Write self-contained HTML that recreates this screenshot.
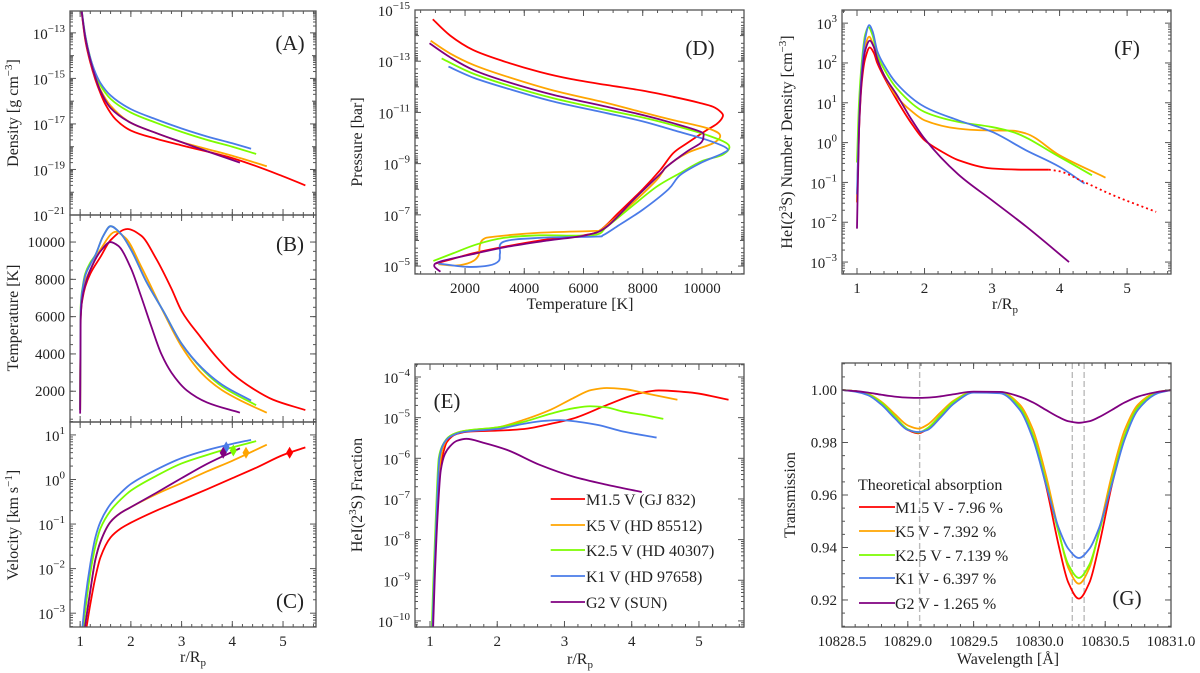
<!DOCTYPE html>
<html><head><meta charset="utf-8">
<style>
html,body{margin:0;padding:0;background:#fff;}
svg{display:block;font-family:"Liberation Serif","DejaVu Serif",serif;}
svg text{font-family:"Liberation Serif","DejaVu Serif",serif;}
</style></head>
<body>
<svg id="fig" width="1200" height="673" viewBox="0 0 1200 673" xmlns="http://www.w3.org/2000/svg" font-family="Liberation Serif, DejaVu Serif, serif">
<rect x="0" y="0" width="1200" height="673" fill="#fff"/>
</svg>
<script>
// ---------- DATA ----------
const starNames=["M1.5 V (GJ 832)","K5 V (HD 85512)","K2.5 V (HD 40307)","K1 V (HD 97658)","G2 V (SUN)"];
const starColors=["#ff0000","#ffa500","#7cfc00","#4a7be8","#800080"];
const absLabels=["M1.5 V - 7.96 %","K5 V - 7.392 %","K2.5 V - 7.139 %","K1 V - 6.397 %","G2 V - 1.265 %"];

// Panel A: log10 density vs r/Rp
const densM15=[[1.0,-11.5],[1.1,-13.3],[1.2,-14.3],[1.3,-15.05],[1.4,-15.65],[1.5,-16.15],[1.7,-16.8],[2,-17.29],[2.5,-17.65],[3,-17.94],[4,-18.5],[5,-19.3],[5.44,-19.7]];
const densK5=[[1.0,-11.5],[1.1,-13.2],[1.2,-14.2],[1.3,-14.95],[1.4,-15.5],[1.6,-16.2],[2,-16.95],[2.5,-17.4],[3,-17.8],[3.5,-18.1],[4,-18.4],[4.68,-18.86]];
const densK25=[[1.0,-11.5],[1.1,-13.1],[1.2,-14.1],[1.3,-14.8],[1.4,-15.3],[1.6,-15.9],[2,-16.5],[2.5,-16.95],[3,-17.35],[3.5,-17.7],[4,-18.0],[4.47,-18.32]];
const densK1=[[1.0,-11.5],[1.1,-13.1],[1.2,-14.1],[1.3,-14.75],[1.4,-15.2],[1.6,-15.75],[2,-16.35],[2.5,-16.8],[3,-17.2],[3.5,-17.55],[4,-17.85],[4.37,-18.09]];
const densG2=[[1.0,-11.5],[1.1,-13.2],[1.2,-14.2],[1.3,-14.95],[1.4,-15.55],[1.6,-16.3],[2,-16.95],[2.5,-17.4],[3,-17.8],[3.5,-18.2],[4.15,-18.7]];
const densTicks=[-21,-19,-17,-15,-13];

// Panel B: temperature vs r/Rp
const tempM15=[[1.0,1000],[1.01,6000],[1.05,7000],[1.1,7600],[1.2,8300],[1.4,9200],[1.6,10100],[1.93,10700],[2.2,10350],[2.5,9100],[2.8,7500],[3.0,6300],[3.37,4920],[3.7,3800],[4,2950],[4.4,2150],[4.8,1550],[5.44,990]];
const tempK5=[[1.0,1000],[1.01,6000],[1.05,7300],[1.1,7900],[1.2,8500],[1.4,9600],[1.7,10550],[1.9,10200],[2.2,8700],[2.65,6200],[3,4400],[3.4,2950],[3.8,2050],[4.2,1450],[4.68,850]];
const tempK25=[[1.0,1000],[1.01,6500],[1.05,7600],[1.1,8300],[1.2,8900],[1.3,9300],[1.45,10300],[1.6,10850],[1.8,10450],[2,9600],[2.3,7900],[2.65,6250],[3,4550],[3.4,3200],[3.8,2250],[4.47,1250]];
const tempK1=[[1.0,1000],[1.01,6300],[1.05,7500],[1.1,8200],[1.2,8800],[1.3,9300],[1.45,10300],[1.6,10850],[1.8,10450],[2,9600],[2.3,7900],[2.65,6250],[3,4550],[3.4,3250],[3.8,2350],[4.37,1500]];
const tempG2=[[1.0,800],[1.01,5800],[1.05,7100],[1.1,7700],[1.2,8500],[1.4,9500],[1.6,10000],[1.75,9800],[2,8600],[2.2,7100],[2.4,5500],[2.6,4000],[2.8,3000],[3.1,2050],[3.5,1400],[4.15,850]];
const tempTicks=[2000,4000,6000,8000,10000];

// Panel C: log10 velocity vs r/Rp
const velM15=[[1.1,-3.5],[1.2,-2.8],[1.3,-2.2],[1.4,-1.75],[1.6,-1.3],[1.8,-1.1],[2,-0.97],[2.5,-0.7],[3,-0.46],[3.5,-0.22],[4,0.03],[4.5,0.28],[5,0.55],[5.44,0.72]];
const velK5=[[1.07,-3.5],[1.2,-2.5],[1.3,-1.8],[1.4,-1.4],[1.6,-0.95],[1.8,-0.75],[2,-0.62],[2.5,-0.33],[3,-0.08],[3.5,0.18],[4,0.42],[4.68,0.78]];
const velK25=[[1.04,-3.5],[1.2,-2.1],[1.3,-1.5],[1.4,-1.1],[1.6,-0.7],[1.8,-0.45],[2,-0.25],[2.5,0.08],[3,0.36],[3.5,0.55],[4,0.72],[4.47,0.86]];
const velK1=[[1.03,-3.5],[1.1,-2.7],[1.2,-1.9],[1.3,-1.3],[1.4,-0.95],[1.6,-0.55],[1.8,-0.3],[2,-0.1],[2.5,0.22],[3,0.48],[3.5,0.66],[4,0.8],[4.37,0.89]];
const velG2=[[1.07,-3.5],[1.2,-2.5],[1.3,-1.8],[1.4,-1.4],[1.6,-0.95],[1.8,-0.75],[2,-0.62],[2.5,-0.3],[3,0.03],[3.5,0.35],[4.15,0.7]];
const sonicR=[5.13,4.27,4.02,3.88,3.82];
const sonicV=[0.6,0.6,0.65,0.72,0.6];
const velTicks=[-3,-2,-1,0,1];
const rTicks=[1,2,3,4,5];

// Panel D: temperature vs log10 pressure
const presM15=[[910,-14.64],[1500,-14.0],[2270,-13.44],[3300,-13.0],[4530,-12.58],[5600,-12.3],[6790,-12.07],[8000,-11.85],[9030,-11.61],[9900,-11.38],[10380,-11.22],[10650,-11.0],[10700,-10.83],[10500,-10.55],[10160,-10.31],[9500,-9.8],[9030,-9.41],[8590,-8.75],[8000,-8.0],[7200,-7.1],[6560,-6.4],[5990,-6.2],[4530,-6.0],[3300,-5.75],[2270,-5.5],[1500,-5.25],[1000,-5.1]];
const presK5=[[840,-13.8],[1500,-13.3],[2300,-12.85],[3410,-12.4],[5000,-11.85],[6790,-11.37],[8000,-11.0],[9030,-10.7],[10160,-10.39],[10610,-10.12],[10380,-9.8],[9490,-9.41],[8810,-8.88],[8470,-8.36],[7700,-7.5],[6900,-6.7],[6560,-6.4],[6300,-6.37],[4500,-6.3],[3000,-6.15],[2620,-6.05],[2500,-5.8],[2450,-5.4],[2200,-5.15],[1700,-5.02],[1100,-5.07]];
const presK25=[[1210,-13.11],[2200,-12.55],[3410,-12.07],[5000,-11.55],[6790,-11.09],[8000,-10.8],[9030,-10.5],[10160,-10.12],[10900,-9.73],[10700,-9.35],[10000,-9.1],[9260,-8.63],[8470,-8.1],[7600,-7.3],[6790,-6.54],[6330,-6.21],[4530,-6.2],[3300,-6.1],[2400,-5.85],[1600,-5.5],[930,-5.2]];
const presK1=[[1440,-12.79],[2300,-12.35],[3410,-11.94],[5000,-11.42],[6790,-10.97],[8000,-10.65],[9030,-10.31],[10160,-9.93],[10840,-9.6],[10700,-9.4],[10000,-9.05],[9260,-8.55],[8870,-8.0],[8000,-7.2],[7200,-6.6],[6670,-6.21],[6400,-6.15],[4500,-6.1],[3300,-5.95],[3180,-5.5],[3140,-5.2],[2800,-5.02],[2060,-4.97],[1100,-5.1]];
const presG2=[[800,-13.7],[1500,-13.15],[2300,-12.65],[3410,-12.2],[5000,-11.68],[6790,-11.22],[8000,-10.9],[9030,-10.58],[9940,-10.25],[10050,-10.05],[9950,-9.8],[9490,-9.47],[8810,-8.88],[8590,-8.6],[7700,-7.6],[6790,-6.54],[6110,-6.21],[4800,-6.0],[3410,-5.75],[2200,-5.45],[1150,-5.17],[960,-5.0],[1170,-4.78]];
const presTicks=[-15,-13,-11,-9,-7,-5];
const tkTicks=[2000,4000,6000,8000,10000];

// Panel E: log10 HeI(2^3S) fraction vs r/Rp
const fracM15=[[1.03,-10.5],[1.06,-9],[1.1,-7.5],[1.15,-6.3],[1.2,-5.85],[1.25,-5.6],[1.4,-5.4],[1.6,-5.34],[2,-5.32],[2.4,-5.28],[2.8,-5.15],[3.13,-5.02],[3.63,-4.69],[4.12,-4.4],[4.4,-4.33],[4.87,-4.38],[5.44,-4.56]];
const fracK5=[[1.03,-10.5],[1.06,-9],[1.1,-7.3],[1.15,-6.1],[1.2,-5.7],[1.3,-5.45],[1.5,-5.33],[2,-5.24],[2.4,-5.05],[2.8,-4.8],[3.13,-4.52],[3.4,-4.32],[3.63,-4.27],[3.9,-4.3],[4.2,-4.4],[4.68,-4.56]];
const fracK25=[[1.02,-10.5],[1.05,-9],[1.09,-7.3],[1.13,-6.0],[1.18,-5.7],[1.3,-5.45],[1.5,-5.33],[2,-5.24],[2.4,-5.1],[2.8,-4.9],[3.13,-4.77],[3.38,-4.72],[3.6,-4.74],[3.87,-4.85],[4.2,-4.94],[4.47,-5.03]];
const fracK1=[[1.03,-10.5],[1.06,-9],[1.1,-7.3],[1.14,-6.0],[1.2,-5.65],[1.3,-5.47],[1.5,-5.35],[2,-5.28],[2.4,-5.15],[2.7,-5.08],[2.93,-5.06],[3.2,-5.1],[3.5,-5.18],[3.87,-5.34],[4.37,-5.49]];
const fracG2=[[1.04,-10.5],[1.07,-9],[1.11,-7.5],[1.16,-6.3],[1.22,-5.9],[1.3,-5.7],[1.4,-5.57],[1.54,-5.52],[1.8,-5.62],[2.14,-5.79],[2.63,-6.16],[3.13,-6.45],[3.63,-6.65],[4.15,-6.83]];
const fracTicks=[-10,-9,-8,-7,-6,-5,-4];

// Panel F: log10 HeI(2^3S) number density vs r/Rp
const ndM15=[[1.0,-1.5],[1.03,0.3],[1.07,1.5],[1.12,2.1],[1.19,2.39],[1.25,2.25],[1.3,2.0],[1.4,1.65],[1.59,1.07],[1.8,0.5],[2,0.06],[2.25,-0.22],[2.5,-0.44],[3,-0.65],[3.5,-0.68],[3.84,-0.68]];
const ndM15Extra=[[3.84,-0.68],[4.0,-0.72],[4.3,-0.94],[4.79,-1.32],[5.43,-1.74]];
const ndK5=[[1.0,-1.5],[1.03,0.5],[1.07,1.7],[1.12,2.4],[1.18,2.66],[1.24,2.45],[1.3,2.1],[1.4,1.7],[1.59,1.15],[1.8,0.8],[2,0.56],[2.5,0.35],[2.82,0.31],[3.3,0.3],[3.5,0.23],[4,-0.32],[4.68,-0.88]];
const ndK25=[[1.0,-0.5],[1.03,1.0],[1.07,2.0],[1.12,2.7],[1.17,2.9],[1.23,2.7],[1.3,2.2],[1.4,1.85],[1.59,1.36],[2,0.77],[2.5,0.52],[3,0.39],[3.3,0.27],[4,-0.36],[4.48,-0.82]];
const ndK1=[[1.0,-1.3],[1.03,0.5],[1.07,1.8],[1.12,2.6],[1.18,2.95],[1.23,2.8],[1.3,2.3],[1.4,1.95],[1.59,1.48],[2,0.9],[2.5,0.56],[3,0.27],[3.5,-0.19],[4,-0.61],[4.37,-1.03]];
const ndG2=[[1.0,-2.16],[1.03,0.3],[1.07,1.6],[1.12,2.3],[1.19,2.56],[1.25,2.4],[1.3,2.1],[1.4,1.7],[1.59,1.2],[1.8,0.6],[2,0.1],[2.5,-0.8],[3,-1.45],[3.5,-2.1],[4.14,-3.0]];
const ndTicks=[-3,-2,-1,0,1,2,3];

// Panel G: transmission spectra
const wave=[10828.5,10828.6,10828.7,10828.8,10828.9,10829.0,10829.08,10829.15,10829.25,10829.35,10829.5,10829.7,10829.85,10829.95,10830.05,10830.15,10830.22,10830.30,10830.38,10830.45,10830.55,10830.65,10830.75,10830.9,10831.0];
const transM15=[1.0,0.9996,0.9983,0.995,0.9898,0.9848,0.9835,0.9852,0.9904,0.9955,0.9992,0.9991,0.9936,0.9828,0.9636,0.940,0.9266,0.9205,0.9266,0.940,0.9636,0.9828,0.9936,0.9991,1.0];
const transK5=[1.0,0.9996,0.9985,0.9955,0.9909,0.9865,0.9853,0.9868,0.9915,0.996,0.9993,0.9993,0.9945,0.985,0.9675,0.9455,0.9322,0.9262,0.9322,0.9455,0.9675,0.985,0.9945,0.9993,1.0];
const transK25=[1.0,0.9996,0.9983,0.9951,0.99,0.9851,0.9838,0.9855,0.9906,0.9956,0.9992,0.9990,0.9935,0.9830,0.9650,0.9450,0.9335,0.9284,0.9335,0.9450,0.9650,0.9830,0.9935,0.9990,1.0];
const transK1=[1.0,0.9994,0.998,0.9944,0.9893,0.9848,0.984,0.9848,0.9896,0.9948,0.999,0.9988,0.9925,0.9815,0.964,0.947,0.9395,0.936,0.9395,0.947,0.964,0.9815,0.9925,0.9988,1.0];
const transG2=[1.0,0.9996,0.999,0.9982,0.9975,0.9971,0.997,0.9971,0.9976,0.9984,0.9994,0.9993,0.9975,0.9953,0.9924,0.9896,0.9881,0.9875,0.9881,0.9896,0.9924,0.9953,0.9975,0.9993,1.0];
const lineCenters=[10829.09,10830.25,10830.34];
const waveTicks=[10828.5,10829.0,10829.5,10830.0,10830.5,10831.0];
const transTicks=[0.92,0.94,0.96,0.98,1.00];

// ---------- DRAWING ----------
const NS="http://www.w3.org/2000/svg";
const FONT="Liberation Serif, DejaVu Serif, serif";
const svg=document.getElementById('fig');
const FRAME="#555";
function el(tag,parent){const e=document.createElementNS(NS,tag);(parent||svg).appendChild(e);return e;}
let clipN=0;
function makeAxes(x0,x1,y0,y1,xd,yd){
  const sx=v=>x0+(v-xd[0])/(xd[1]-xd[0])*(x1-x0);
  const sy=v=>y1-(v-yd[0])/(yd[1]-yd[0])*(y1-y0);
  const id='clip'+(clipN++);
  const cp=el('clipPath');cp.setAttribute('id',id);
  const cr=el('rect',cp);cr.setAttribute('x',x0);cr.setAttribute('y',y0);cr.setAttribute('width',x1-x0);cr.setAttribute('height',y1-y0);
  const g=el('g');g.setAttribute('clip-path','url(#'+id+')');
  return {x0,x1,y0,y1,xd,yd,sx,sy,g};
}
function frame(ax,name){
  const r=el('rect');
  r.setAttribute('x',ax.x0);r.setAttribute('y',ax.y0);r.setAttribute('width',ax.x1-ax.x0);r.setAttribute('height',ax.y1-ax.y0);
  r.setAttribute('fill','none');r.setAttribute('stroke',FRAME);r.setAttribute('stroke-width','1.3');
  
  
}
function tickLine(x1,y1,x2,y2){const l=el('line');l.setAttribute('x1',x1);l.setAttribute('y1',y1);l.setAttribute('x2',x2);l.setAttribute('y2',y2);l.setAttribute('stroke',FRAME);l.setAttribute('stroke-width','1');return l;}
function xTicks(ax,vals,len){vals.forEach(v=>{const x=ax.sx(v);if(x<ax.x0-0.5||x>ax.x1+0.5)return;tickLine(x,ax.y1,x,ax.y1-len);tickLine(x,ax.y0,x,ax.y0+len);});}
function yTicks(ax,vals,len){vals.forEach(v=>{const y=ax.sy(v);if(y<Math.min(ax.y0,ax.y1)-0.5||y>Math.max(ax.y0,ax.y1)+0.5)return;tickLine(ax.x0,y,ax.x0+len,y);tickLine(ax.x1,y,ax.x1-len,y);});}
function range(a,b,s){const o=[];for(let v=a;v<=b+1e-9;v+=s)o.push(+v.toFixed(6));return o;}
function logMinor(a,b){const o=[];for(let n=Math.floor(Math.min(a,b));n<=Math.ceil(Math.max(a,b));n++){for(let k=2;k<=9;k++)o.push(n+Math.log10(k));}return o;}
function text(x,y,str,size,anchor){const t=el('text');t.setAttribute('x',x);t.setAttribute('y',y);t.setAttribute('font-size',size);t.setAttribute('font-family',FONT);t.setAttribute('text-anchor',anchor||'middle');t.setAttribute('fill','#222');t.textContent=str;return t;}
function powLabel(x,y,exp,name){
  const t=el('text');t.setAttribute('x',x);t.setAttribute('y',y);t.setAttribute('font-size','15');t.setAttribute('font-family',FONT);t.setAttribute('text-anchor','end');t.setAttribute('fill','#222');
  const a=el('tspan',t);a.textContent='10';
  const b=el('tspan',t);b.setAttribute('dy','-7');b.setAttribute('font-size','11');b.textContent=(exp<0?'\u2212':'')+Math.abs(exp);
  
  
  return t;
}
function yLabelLin(ax,vals,fmt,name){vals.forEach(v=>{const t=text(ax.x0-5,ax.sy(v)+5,fmt(v),15,'end');});}
function yLabelLog(ax,vals,name){vals.forEach(v=>{powLabel(ax.x0-5,ax.sy(v)+6,v,name);});}
function xLabelLin(ax,vals,fmt,name){vals.forEach(v=>{const t=text(ax.sx(v),ax.y1+19,fmt(v),15,'middle');});}
function rotLabel(x,y,parts,name){
  const t=el('text');t.setAttribute('transform','translate('+x+','+y+') rotate(-90)');t.setAttribute('font-size','16');t.setAttribute('font-family',FONT);t.setAttribute('text-anchor','middle');t.setAttribute('fill','#222');
  parts.forEach(p=>{const s=el('tspan',t);s.textContent=p[0];if(p[1]){s.setAttribute('dy',p[1]);}if(p[2])s.setAttribute('font-size',p[2]);});
  
  
}
function rpLabel(x,y,name){
  const t=el('text');t.setAttribute('x',x);t.setAttribute('y',y);t.setAttribute('font-size','16');t.setAttribute('font-family',FONT);t.setAttribute('text-anchor','middle');t.setAttribute('fill','#222');
  const a=el('tspan',t);a.textContent='r/R';
  const b=el('tspan',t);b.setAttribute('dy','4');b.setAttribute('font-size','11');b.textContent='p';
  
  
}
// parametric Catmull-Rom (for panel D loops)
function smooth(pts){
  if(pts.length<2)return '';
  let d='M'+pts[0][0].toFixed(2)+','+pts[0][1].toFixed(2);
  for(let i=0;i<pts.length-1;i++){
    const p0=pts[i-1]||pts[i],p1=pts[i],p2=pts[i+1],p3=pts[i+2]||pts[i+1];
    const c1=[p1[0]+(p2[0]-p0[0])/6,p1[1]+(p2[1]-p0[1])/6];
    const c2=[p2[0]-(p3[0]-p1[0])/6,p2[1]-(p3[1]-p1[1])/6];
    d+='C'+c1[0].toFixed(2)+','+c1[1].toFixed(2)+' '+c2[0].toFixed(2)+','+c2[1].toFixed(2)+' '+p2[0].toFixed(2)+','+p2[1].toFixed(2);
  }
  return d;
}
// monotone cubic (Fritsch-Carlson) for y(x) data in pixel space
function monotone(pts){
  const n=pts.length;if(n<2)return '';
  const dx=[],s=[];
  for(let i=0;i<n-1;i++){dx.push(pts[i+1][0]-pts[i][0]);s.push((pts[i+1][1]-pts[i][1])/(dx[i]||1e-6));}
  const m=new Array(n);
  m[0]=s[0];m[n-1]=s[n-2];
  for(let i=1;i<n-1;i++){
    if(s[i-1]*s[i]<=0)m[i]=0;
    else{const w1=2*dx[i]+dx[i-1],w2=dx[i]+2*dx[i-1];m[i]=(w1+w2)/(w1/s[i-1]+w2/s[i]);}
  }
  let d='M'+pts[0][0].toFixed(2)+','+pts[0][1].toFixed(2);
  for(let i=0;i<n-1;i++){
    const h=dx[i]/3;
    d+='C'+(pts[i][0]+h).toFixed(2)+','+(pts[i][1]+m[i]*h).toFixed(2)+' '+(pts[i+1][0]-h).toFixed(2)+','+(pts[i+1][1]-m[i+1]*h).toFixed(2)+' '+pts[i+1][0].toFixed(2)+','+pts[i+1][1].toFixed(2);
  }
  return d;
}
function curve(ax,data,color,dash,param){
  const p=el('path',ax.g);
  const px=data.map(d=>[ax.sx(d[0]),ax.sy(d[1])]);
  p.setAttribute('d',param?smooth(px):monotone(px));
  p.setAttribute('fill','none');p.setAttribute('stroke',color);p.setAttribute('stroke-width','1.8');p.setAttribute('stroke-linejoin','round');
  if(dash)p.setAttribute('stroke-dasharray',dash);
  return p;
}
function panelLetter(x,y,str,name){const t=text(x,y,str,21,'middle');}

// ---- Panel A
const axA=makeAxes(70,316,11,215,[0.8,5.65],[-21,-12.04]);
[densM15,densK5,densK25,densK1,densG2].forEach((s,i)=>{const p=curve(axA,s,starColors[i]);});
xTicks(axA,rTicks,6);xTicks(axA,range(0.8,5.6,0.2),3);
yTicks(axA,densTicks,6);yTicks(axA,logMinor(-21,-12),3);yTicks(axA,[-20,-18,-16,-14,-12],4);
frame(axA,'panel-a-frame');
yLabelLog(axA,densTicks,'density-tick-label');
rotLabel(18,113,[['Density [g cm'],['\u22123','-6','11'],[']','6']],'density-axis-title');
panelLetter(290,50,'(A)','panel-a-label');

// ---- Panel B
const axB=makeAxes(70,316,215,422,[0.8,5.65],[350,11450]);
[tempM15,tempK5,tempK25,tempK1,tempG2].forEach((s,i)=>{const p=curve(axB,s,starColors[i]);});
xTicks(axB,rTicks,6);xTicks(axB,range(0.8,5.6,0.2),3);
yTicks(axB,tempTicks,6);yTicks(axB,range(500,11000,500),3);
frame(axB,'panel-b-frame');
yLabelLin(axB,tempTicks,v=>String(v),'temperature-tick-label');
rotLabel(18,318,[['Temperature [K]']],'temperature-axis-title');
panelLetter(290,251,'(B)','panel-b-label');

// ---- Panel C
const axC=makeAxes(70,316,422,627,[0.8,5.65],[-3.31,1.29]);
[velM15,velK5,velK25,velK1,velG2].forEach((s,i)=>{const p=curve(axC,s,starColors[i]);});
sonicR.forEach((r,i)=>{
  const cx=axC.sx(r),cy=axC.sy(sonicV[i]);
  const d=el('polygon',axC.g);
  d.setAttribute('points',(cx)+','+(cy-6)+' '+(cx+3.5)+','+cy+' '+cx+','+(cy+6)+' '+(cx-3.5)+','+cy);
  d.setAttribute('fill',starColors[i]);
  
  
});
xTicks(axC,rTicks,6);xTicks(axC,range(0.8,5.6,0.2),3);
yTicks(axC,velTicks,6);yTicks(axC,logMinor(-4,1),3);
frame(axC,'panel-c-frame');
yLabelLog(axC,velTicks,'velocity-tick-label');
xLabelLin(axC,rTicks,v=>String(v),'r-tick-label');
rotLabel(18,525,[['Velocity [km s'],['\u22121','-6','11'],[']','6']],'velocity-axis-title');
rpLabel(193,662,'r-axis-title-c');
panelLetter(290,608,'(C)','panel-c-label');

// ---- Panel D
const axD=makeAxes(415,744,10,274,[310,11420],[-4.69,-15]);
[presM15,presK5,presK25,presK1,presG2].forEach((s,i)=>{const p=curve(axD,s,starColors[i],null,true);});
xTicks(axD,tkTicks,6);xTicks(axD,range(500,11000,500),3);
yTicks(axD,presTicks,6);yTicks(axD,logMinor(-15,-4),3);yTicks(axD,[-14,-12,-10,-8,-6],4);
frame(axD,'panel-d-frame');
yLabelLog(axD,presTicks,'pressure-tick-label');
xLabelLin(axD,tkTicks,v=>String(v),'temperature-x-tick-label');
rotLabel(362,142,[['Pressure [bar]']],'pressure-axis-title');
{const t=text(580,309,'Temperature [K]',16,'middle');}
panelLetter(700,55,'(D)','panel-d-label');

// ---- Panel E
const axE=makeAxes(415,744,364,627,[0.777,5.67],[-10.15,-3.68]);
[fracM15,fracK5,fracK25,fracK1,fracG2].forEach((s,i)=>{const p=curve(axE,s,starColors[i]);});
xTicks(axE,rTicks,6);xTicks(axE,range(0.8,5.6,0.2),3);
yTicks(axE,fracTicks,6);yTicks(axE,logMinor(-11,-4),3);
frame(axE,'panel-e-frame');
yLabelLog(axE,fracTicks,'fraction-tick-label');
xLabelLin(axE,rTicks,v=>String(v),'r-tick-label');
rotLabel(362,495,[['HeI(2'],['3','-6','11'],['S) Fraction','6']],'fraction-axis-title');
rpLabel(580,664,'r-axis-title-e');
panelLetter(447,408,'(E)','panel-e-label');
const legE=[499,525,550,576,602];
starNames.forEach((n,i)=>{
  const l=tickLine(550.7,legE[i],585,legE[i]);l.setAttribute('stroke',starColors[i]);l.setAttribute('stroke-width','1.8');
  
  
  const t=text(586,legE[i]+6,n,16,'start');
  
  
});

// ---- Panel F
const axF=makeAxes(842,1171,10,274,[0.778,5.65],[-3.30,3.33]);
[ndM15,ndK5,ndK25,ndK1,ndG2].forEach((s,i)=>{const p=curve(axF,s,starColors[i]);});
{const p=curve(axF,ndM15Extra,starColors[0],'2,3');}
xTicks(axF,rTicks,6);xTicks(axF,range(0.8,5.6,0.2),3);
yTicks(axF,ndTicks,6);yTicks(axF,logMinor(-4,3),3);
frame(axF,'panel-f-frame');
yLabelLog(axF,ndTicks,'number-density-tick-label');
xLabelLin(axF,rTicks,v=>String(v),'r-tick-label');
rotLabel(792,142,[['HeI(2'],['3','-6','11'],['S) Number Density [cm','6'],['\u22123','-6','11'],[']','6']],'number-density-axis-title');
rpLabel(1005,309,'r-axis-title-f');
panelLetter(1127,55,'(F)','panel-f-label');

// ---- Panel G
const axG=makeAxes(842,1171,363,627,[10828.5,10831.0],[0.9097,1.0103]);
lineCenters.forEach(c=>{const l=el('line',axG.g);l.setAttribute('x1',axG.sx(c));l.setAttribute('x2',axG.sx(c));l.setAttribute('y1',axG.y0);l.setAttribute('y2',axG.y1);l.setAttribute('stroke','#bbb');l.setAttribute('stroke-width','1.4');l.setAttribute('stroke-dasharray','6,3');
  
  });
[transM15,transK5,transK25,transK1,transG2].forEach((s,i)=>{const p=curve(axG,wave.map((w,j)=>[w,s[j]]),starColors[i]);});
xTicks(axG,waveTicks,6);xTicks(axG,range(10828.5,10831,0.1),3);
yTicks(axG,transTicks,6);yTicks(axG,range(0.91,1.01,0.005),3);
frame(axG,'panel-g-frame');
yLabelLin(axG,transTicks,v=>v.toFixed(2),'transmission-tick-label');
xLabelLin(axG,waveTicks,v=>v.toFixed(1),'wavelength-tick-label');
rotLabel(795,495,[['Transmission']],'transmission-axis-title');
{const t=text(1008,664,'Wavelength [\u00c5]',16,'middle');}
panelLetter(1127,605,'(G)','panel-g-label');
{const t=text(858,490,'Theoretical absorption',16,'start');}
const legG=[507,531,555,578,603];
absLabels.forEach((n,i)=>{
  const l=tickLine(859,legG[i],895,legG[i]);l.setAttribute('stroke',starColors[i]);l.setAttribute('stroke-width','1.8');
  
  
  const t=text(895,legG[i]+6,n,16,'start');
  
  
});
</script>
</body></html>
